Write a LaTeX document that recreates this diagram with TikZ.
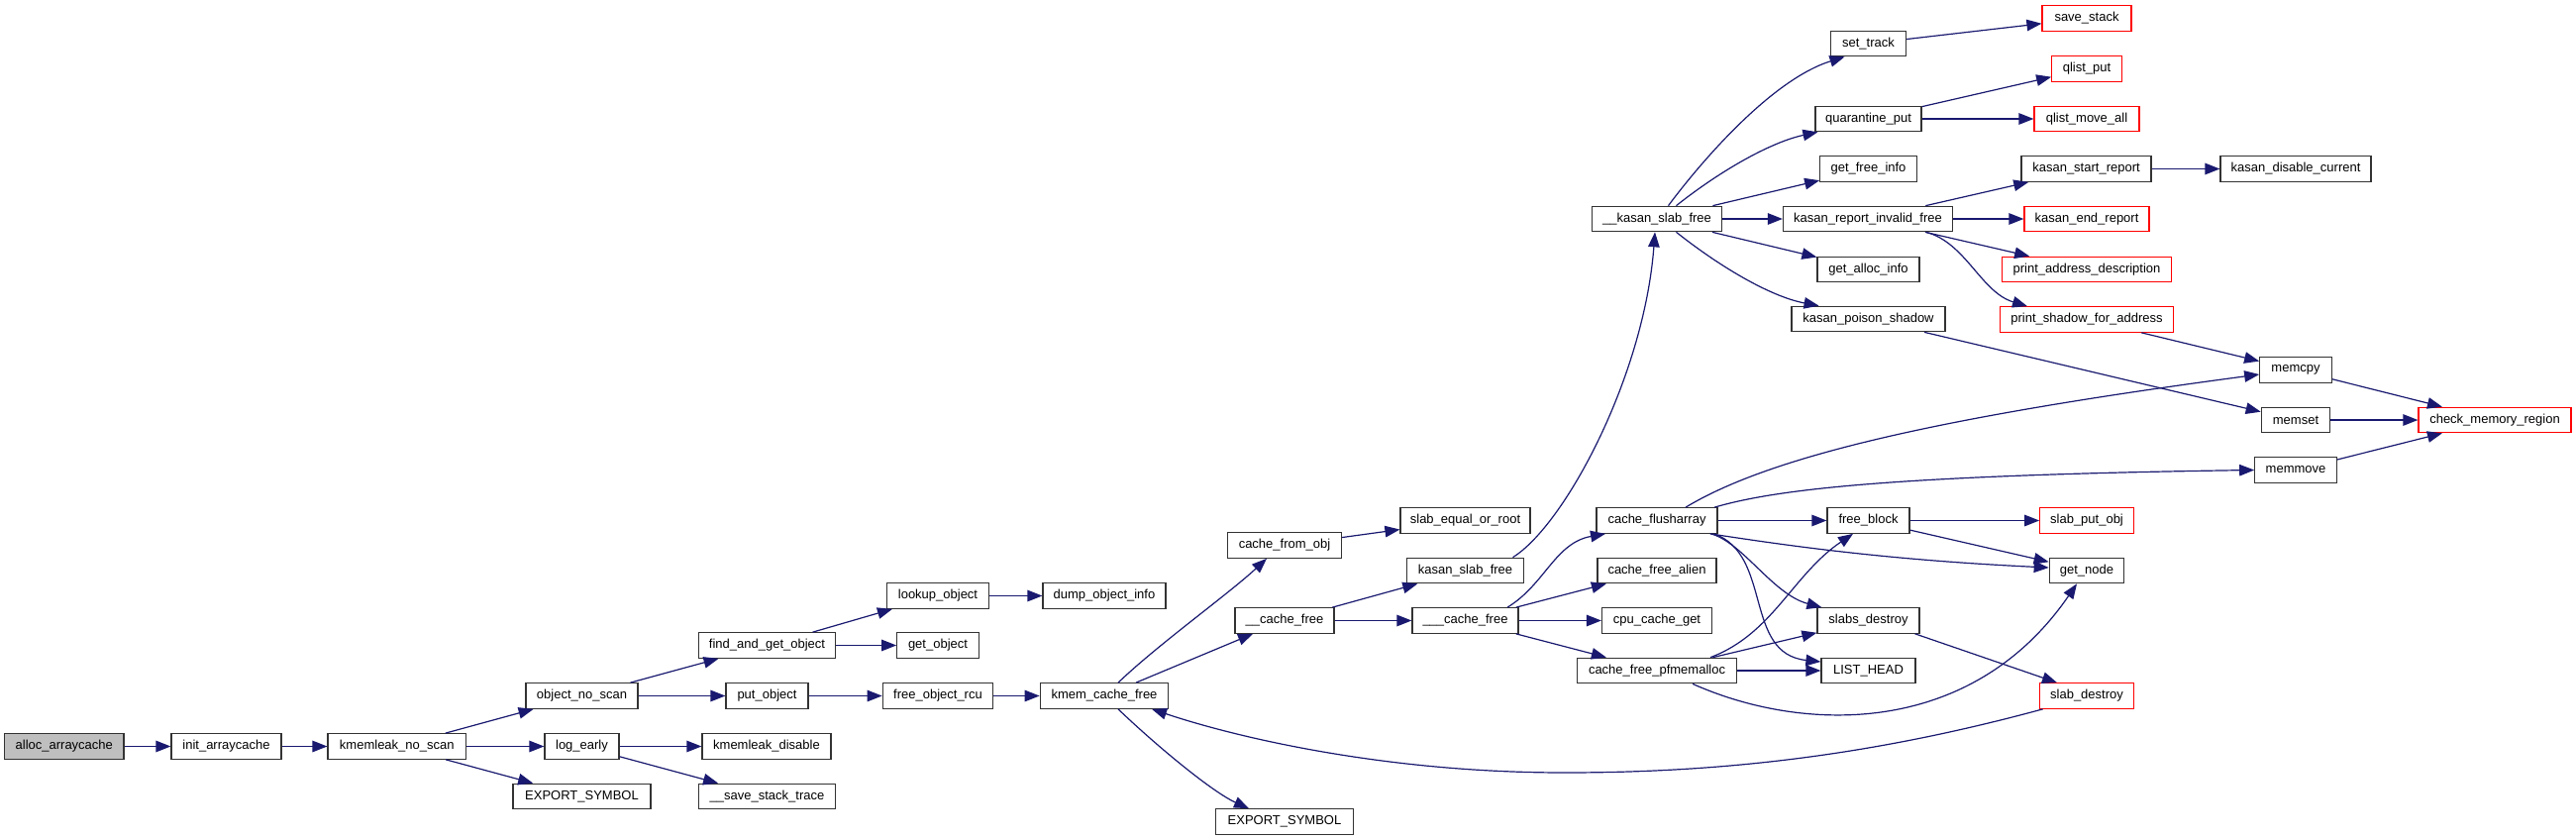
\documentclass[tikz,border=0pt]{standalone}
\usepackage{fontspec}
\setmainfont{Liberation Sans}
\usetikzlibrary{arrows.meta,calc}
\definecolor{mblue}{HTML}{191970}
\definecolor{nodeborder}{HTML}{333333}
\definecolor{rootfill}{HTML}{BFBFBF}
\definecolor{redborder}{HTML}{FF0000}
\tikzset{
  box/.style={draw=nodeborder, line width=1.2pt, fill=white, minimum height=25.5pt, inner sep=0pt,
    font=\fontsize{13}{15}\selectfont},
  rbox/.style={box, draw=redborder},
  root/.style={box, fill=rootfill},
  e/.style={draw=mblue, line width=1.2pt, -{Triangle[length=15pt,width=11.5pt]}, fill=none},
}
\begin{document}
\begin{tikzpicture}[x=1pt,y=-1pt]
\fill[white] (0,0) rectangle (2601,848);
\useasboundingbox (0,0) rectangle (2601,848);

% nodes
\node[root, minimum width=120.5] (alloc) at (64.8,753.5) {alloc\_arraycache};
\node[box, minimum width=111] (init) at (228.5,753.5) {init\_arraycache};
\node[box, minimum width=139.5] (kmns) at (400.8,753.5) {kmemleak\_no\_scan};
\node[box, minimum width=113] (ons) at (587.5,702.5) {object\_no\_scan};
\node[box, minimum width=75] (loge) at (587.5,753.5) {log\_early};
\node[box, minimum width=139] (exa) at (587.5,804) {EXPORT\_SYMBOL};
\node[box, minimum width=138] (fago) at (774.5,651.5) {find\_and\_get\_object};
\node[box, minimum width=83] (puto) at (774.5,702.5) {put\_object};
\node[box, minimum width=130] (kmd) at (774,753.5) {kmemleak\_disable};
\node[box, minimum width=137.5] (sst) at (774.5,804) {\_\_save\_stack\_trace};
\node[box, minimum width=103.5] (lko) at (947,601.5) {lookup\_object};
\node[box, minimum width=82.5] (geto) at (947,651.5) {get\_object};
\node[box, minimum width=111.5] (fobr) at (947,702.5) {free\_object\_rcu};
\node[box, minimum width=124] (doi) at (1115,601.5) {dump\_object\_info};
\node[box, minimum width=129.5] (kcf) at (1115,702.5) {kmem\_cache\_free};
\node[box, minimum width=115] (cfo) at (1297,550.5) {cache\_from\_obj};
\node[box, minimum width=100] (cfa1) at (1297,626.5) {\_\_cache\_free};
\node[box, minimum width=139] (exb) at (1297,829.5) {EXPORT\_SYMBOL};
\node[box, minimum width=131] (seor) at (1479.5,525.5) {slab\_equal\_or\_root};
\node[box, minimum width=117.5] (ksf) at (1479.5,576) {kasan\_slab\_free};
\node[box, minimum width=107] (cfb) at (1479.5,626.5) {\_\_\_cache\_free};
\node[box, minimum width=131] (kksf) at (1673,221) {\_\_kasan\_slab\_free};
\node[box, minimum width=122] (cfar) at (1673,525.5) {cache\_flusharray};
\node[box, minimum width=120] (cfal) at (1673,576) {cache\_free\_alien};
\node[box, minimum width=111] (ccg) at (1673,626.5) {cpu\_cache\_get};
\node[box, minimum width=160.5] (cfp) at (1673,677) {cache\_free\_pfmemalloc};
\node[box, minimum width=76] (st) at (1886.5,44) {set\_track};
\node[box, minimum width=107] (qp) at (1886.5,120) {quarantine\_put};
\node[box, minimum width=97.5] (gfi) at (1886.5,170.5) {get\_free\_info};
\node[box, minimum width=171] (krif) at (1886,221) {kasan\_report\_invalid\_free};
\node[box, minimum width=103] (gai) at (1886.5,272) {get\_alloc\_info};
\node[box, minimum width=155] (kps) at (1886.5,322) {kasan\_poison\_shadow};
\node[box, minimum width=83] (fb) at (1886.5,525.5) {free\_block};
\node[box, minimum width=103] (sd) at (1886.5,626.5) {slabs\_destroy};
\node[box, minimum width=95] (lh) at (1886.5,677) {LIST\_HEAD};
\node[rbox, minimum width=90] (ss) at (2107,18.5) {save\_stack};
\node[rbox, minimum width=70.5] (qpt) at (2107,69.5) {qlist\_put};
\node[rbox, minimum width=106] (qma) at (2107,120) {qlist\_move\_all};
\node[box, minimum width=131] (ksr) at (2106.5,170.5) {kasan\_start\_report};
\node[rbox, minimum width=126] (ker) at (2107,221) {kasan\_end\_report};
\node[rbox, minimum width=170.5] (pad) at (2107,272) {print\_address\_description};
\node[rbox, minimum width=175.6] (psfa) at (2107,322.5) {print\_shadow\_for\_address};
\node[rbox, minimum width=94.5] (spo) at (2107,525.5) {slab\_put\_obj};
\node[box, minimum width=75.5] (gn) at (2107,576) {get\_node};
\node[rbox, minimum width=95.5] (sdy) at (2107,702.5) {slab\_destroy};
\node[box, minimum width=152] (kdc) at (2318,170.5) {kasan\_disable\_current};
\node[box, minimum width=72.5] (mcpy) at (2318,373.5) {memcpy};
\node[box, minimum width=69.5] (mset) at (2318,424) {memset};
\node[box, minimum width=82.5] (mmov) at (2318,474.5) {memmove};
\node[rbox, minimum width=154] (cmr) at (2519,424) {check\_memory\_region};

% edges
\draw[e] (alloc) -- (init);
\draw[e] (init) -- (kmns);
\draw[e] (kmns) -- (ons);
\draw[e] (kmns) -- (loge);
\draw[e] (kmns) -- (exa);
\draw[e] (ons) -- (fago);
\draw[e] (ons) -- (puto);
\draw[e] (loge) -- (kmd);
\draw[e] (loge) -- (sst);
\draw[e] (fago) -- (lko);
\draw[e] (fago) -- (geto);
\draw[e] (lko) -- (doi);
\draw[e] (puto) -- (fobr);
\draw[e] (fobr) -- (kcf);
\draw[e] ($(kcf.north)+(14,0)$) .. controls (1170,650) and (1240,600) .. ($(cfo.south)+(-18,0)$);
\draw[e] (kcf) -- (cfa1);
\draw[e] ($(kcf.south)+(14,0)$) .. controls (1170,755) and (1225,800) .. ($(exb.north)+(-36,0)$);
\draw[e] (cfo) -- (seor);
\draw[e] (cfa1) -- (ksf);
\draw[e] (cfa1) -- (cfb);
\draw[e] ($(ksf.north)+(48,0)$) .. controls (1580,530) and (1660,380) .. ($(kksf.south)+(-2,0)$);
\draw[e] ($(cfb.north)+(42.5,0)$) .. controls (1560,590) and (1570,548) .. ($(cfar.south)+(-52,0)$);
\draw[e] (cfb) -- (cfal);
\draw[e] (cfb) -- (ccg);
\draw[e] (cfb) -- (cfp);
\draw[e] ($(kksf.north)+(11.5,0)$) .. controls (1720,160) and (1790,80) .. ($(st.south)+(-24,0)$);
\draw[e] ($(kksf.north)+(19.5,0)$) .. controls (1740,170) and (1790,143) .. ($(qp.south west)+(3,0)$);
\draw[e] (kksf) -- (gfi);
\draw[e] (kksf) -- (krif);
\draw[e] (kksf) -- (gai);
\draw[e] ($(kksf.south)+(19.5,0)$) .. controls (1740,272) and (1790,300) .. ($(kps.north)+(-50,0)$);
\draw[e] (st) -- (ss);
\draw[e] (qp) -- (qpt);
\draw[e] (qp) -- (qma);
\draw[e] (krif) -- (ksr);
\draw[e] (krif) -- (ker);
\draw[e] (krif) -- (pad);
\draw[e] ($(krif.south)+(58.7,0)$) .. controls (1985,245) and (2000,295) .. ($(psfa.north)+(-60,0)$);
\draw[e] (ksr) -- (kdc);
\draw[e] (psfa) -- (mcpy);
\draw[e] (kps) -- (mset);
\draw[e] (mcpy) -- (cmr);
\draw[e] (mset) -- (cmr);
\draw[e] (mmov) -- (cmr);
\draw[e] ($(cfar.north)+(29,0)$) .. controls (1785,462) and (1950,422) .. ($(mcpy.west)+(0,4.5)$);
\draw[e] ($(cfar.north)+(58,0)$) .. controls (1790,495) and (1900,480) .. (mmov.west);
\draw[e] (cfar) -- (fb);
\draw[e] ($(cfar.south east)+(-8,0)$) .. controls (1800,550) and (1900,565) .. ($(gn.west)+(0,-3)$);
\draw[e] ($(cfar.south east)+(-7,0)$) .. controls (1760,548) and (1790,600) .. ($(sd.north west)+(5,0)$);
\draw[e] ($(cfar.south east)+(-4,0)$) .. controls (1790,560) and (1760,660) .. ($(lh.west)+(0,-9)$);
\draw[e] (fb) -- (spo);
\draw[e] (fb) -- (gn);
\draw[e] ($(cfp.north)+(54,0)$) .. controls (1790,640) and (1810,580) .. ($(fb.south)+(-15.5,0)$);
\draw[e] (cfp) -- (sd);
\draw[e] (cfp) -- (lh);
\draw[e] ($(cfp.south)+(36,0)$) .. controls (1820,740) and (1990,745) .. ($(gn.south)+(-10,0)$);
\draw[e] ($(sd.south east)+(-5,0)$) -- ($(sdy.north)+(-30,0)$);
\draw[e] ($(sdy.south west)+(4,0)$) .. controls (1900,760) and (1750,780) .. (1580,780)
   .. controls (1400,780) and (1250,745) .. ($(kcf.south)+(48,0)$);
\end{tikzpicture}
\end{document}
